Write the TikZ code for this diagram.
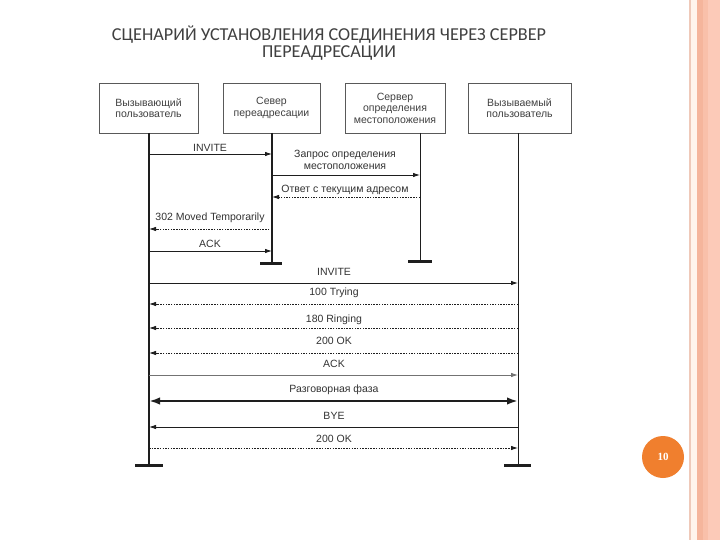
\documentclass[tikz,border=0pt]{standalone}
\usepackage{fontspec}
\setmainfont{Liberation Sans}
\newfontfamily\titlefont{Carlito}
\newfontfamily\numfont{Liberation Serif}
\usetikzlibrary{arrows.meta}
\definecolor{stripeA}{HTML}{EFC9B9}
\definecolor{stripeB}{HTML}{FFF4EC}
\definecolor{stripeC}{HTML}{F5B59C}
\definecolor{stripeD}{HTML}{F9C0AA}
\definecolor{stripeE}{HTML}{FCCAB8}
\definecolor{badge}{HTML}{F07F2E}
\definecolor{ink}{HTML}{1E1E1E}
\begin{document}
\begin{tikzpicture}[x=1pt,y=-1pt,
  box/.style={draw=black!65, line width=0.6pt, minimum height=50pt, align=center,
    font=\fontsize{10.5}{11.5}\selectfont, text=black!75, inner sep=0pt},
  life/.style={draw=ink, line width=1.8pt},
  thinlife/.style={draw=ink, line width=1pt},
  endbar/.style={draw=ink, line width=3pt},
  msg/.style={draw=ink, line width=0.85pt, -{Latex[length=7pt,width=4.5pt]}},
  rep/.style={msg, dash pattern=on 1.5pt off 1.2pt},
  talk/.style={draw=ink, line width=2.2pt, {Latex[length=11pt,width=7.5pt]}-{Latex[length=11pt,width=7.5pt]}},
  lbl/.style={font=\fontsize{10.5}{12}\selectfont, text=black!80, inner sep=0pt, align=center},
  title/.style={font=\titlefont\fontsize{18.2}{20}\selectfont, text=black!75, inner sep=0pt}]
\useasboundingbox (0,0) rectangle (720,540);
\fill[white] (0,0) rectangle (720,540);
% right border stripes
\fill[stripeA] (689,0) rectangle (691,540);
\fill[stripeB] (691,0) rectangle (697,540);
\fill[stripeC] (697,0) rectangle (703,540);
\fill[stripeD] (703,0) rectangle (708,540);
\fill[stripeE] (708,0) rectangle (720,540);
% title
\node[title] (t1) at (329,35) {СЦЕНАРИЙ УСТАНОВЛЕНИЯ СОЕДИНЕНИЯ ЧЕРЕЗ СЕРВЕР};
\node[title] (t2) at (329,53) {ПЕРЕАДРЕСАЦИИ};
% page badge
\node[circle, fill=badge, minimum size=42pt, inner sep=0pt, text=white,
  font=\numfont\bfseries\fontsize{11}{13}\selectfont] (pg) at (663,457) {10};
% participant boxes
\node[box, minimum width=99pt] (b1) at (148.5,108) {Вызывающий\\пользователь};
\node[box, minimum width=97pt] (b2) at (271.5,108) {Север\\переадресации};
\node[box, minimum width=100pt] (b3) at (395,108) {Сервер\\определения\\местоположения};
\node[box, minimum width=103pt] (b4) at (519.5,108) {Вызываемый\\пользователь};
% lifeline anchors
\coordinate (L1) at (149,133);
\coordinate (L2) at (272,133);
\coordinate (L3) at (420,133);
\coordinate (L4) at (518,133);
\coordinate (E1) at (149,465);
\coordinate (E2) at (272,263);
\coordinate (E3) at (420,261);
\coordinate (E4) at (518,465);
\draw[life] (L1) -- (E1);
\draw[life] (L2) -- (E2);
\draw[thinlife] (L3) -- (E3);
\draw[thinlife] (L4) -- (E4);
\draw[endbar] ([xshift=-14pt]E1) -- ([xshift=14pt]E1);
\draw[endbar] ([xshift=-12pt]E2) -- ([xshift=10pt]E2);
\draw[endbar] ([xshift=-12pt]E3) -- ([xshift=12pt]E3);
\draw[endbar] ([xshift=-14pt]E4) -- ([xshift=13pt]E4);
% messages
\draw[msg] (L1 |- 0,154) -- (L2 |- 0,154);
\node[lbl] (m1) at (210,148) {INVITE};
\draw[msg] (L2 |- 0,175) -- (L3 |- 0,175);
\node[lbl] (m2) at (345,160) {Запрос определения\\местоположения};
\draw[rep] (L3 |- 0,197) -- (L2 |- 0,197);
\node[lbl] (m3) at (345,190) {Ответ с текущим адресом};
\draw[rep] (L2 |- 0,229) -- (L1 |- 0,229);
\node[lbl] (m4) at (210,218) {302 Moved Temporarily};
\draw[msg] (L1 |- 0,251) -- (L2 |- 0,251);
\node[lbl] (m5) at (210,244) {ACK};
\draw[msg] (L1 |- 0,283) -- (L4 |- 0,283);
\node[lbl] (m6) at (334,272) {INVITE};
\draw[rep] (L4 |- 0,304) -- (L1 |- 0,304);
\node[lbl] (m7) at (334,293) {100 Trying};
\draw[rep] (L4 |- 0,328) -- (L1 |- 0,328);
\node[lbl] (m8) at (334,320) {180 Ringing};
\draw[rep] (L4 |- 0,353) -- (L1 |- 0,353);
\node[lbl] (m9) at (334,341) {200 OK};
\draw[msg, draw=black!55] (L1 |- 0,375) -- (L4 |- 0,375);
\node[lbl] (m10) at (334,364) {ACK};
\draw[talk] (L1 |- 0,401) -- (L4 |- 0,401);
\node[lbl] (m11) at (334,390) {Разговорная фаза};
\draw[msg] (L4 |- 0,427) -- (L1 |- 0,427);
\node[lbl] (m12) at (334,416) {BYE};
\draw[rep] (L1 |- 0,448) -- (L4 |- 0,448);
\node[lbl] (m13) at (334,439) {200 OK};
\end{tikzpicture}
\end{document}
